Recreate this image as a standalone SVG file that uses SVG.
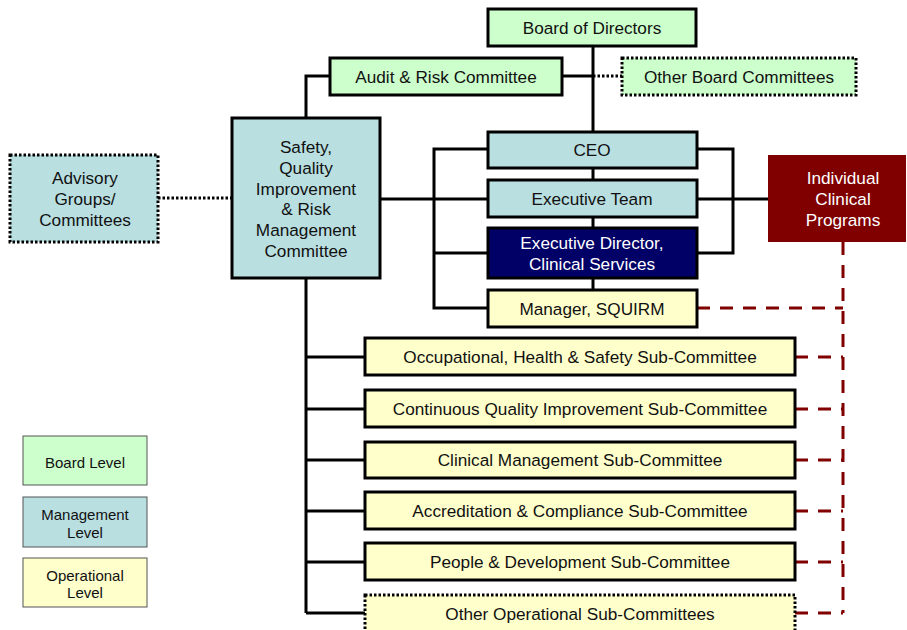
<svg xmlns="http://www.w3.org/2000/svg" width="907" height="630" viewBox="0 0 907 630">
  <style>
    text { font-family: "Liberation Sans", Arial, sans-serif; font-size: 17.2px; fill: #111; text-anchor: middle; dominant-baseline: central; }
    .box { stroke: #000; stroke-width: 3; }
    .board { fill: #ccffcc; }
    .mgmt { fill: #b9dfe1; }
    .oper { fill: #ffffcc; }
    .navy { fill: #000066; }
    .dotted { stroke-dasharray: 2.5 2; stroke-width: 3; }
    .link { stroke: #000; stroke-width: 3; fill: none; }
    .dot { stroke: #000; stroke-width: 3; stroke-dasharray: 2.5 2; fill: none; }
    .dash { stroke: #800000; stroke-width: 3; stroke-dasharray: 13 10; fill: none; }
    .legend rect { stroke: #555; stroke-width: 1; }
    .legend text { font-size: 15px; }
    .light { fill: #fff; }
  </style>

  <!-- connectors -->
  <g id="connectors">
    <!-- board spine -->
    <path class="link" d="M593 46 V132 M593 168 V180 M593 217 V228 M593 278 V290"/>
    <path class="link" d="M562 76 H593"/>
    <path class="dot" d="M593 76 H622"/>
    <!-- audit to safety committee -->
    <path class="link" d="M330 76 H306 V118"/>
    <path class="dot" d="M158 198 H232"/>
    <!-- safety committee to executive -->
    <path class="link" d="M380 199 H488"/>
    <!-- left bracket -->
    <path class="link" d="M488 149 H434 V308 H488 M434 253 H488"/>
    <!-- right bracket -->
    <path class="link" d="M697 149 H733 V253 H697 M697 199 H768"/>
    <!-- sub-committee spine -->
    <path class="link" d="M306 278 V613 M306 357 H365 M306 409 H365 M306 460 H365 M306 511 H365 M306 562 H365 M306 613 H365"/>
    <!-- clinical programs dashed links -->
    <path class="dash" d="M843 242 V613"/>
    <path class="dash" d="M697 308 H843 M795 357 H843 M795 409 H843 M795 460 H843 M795 511 H843 M795 562 H843 M795 613 H843"/>
  </g>

  <g id="board">
    <rect class="box board" x="488" y="9" width="208" height="37"/>
    <text x="592" y="28">Board of Directors</text>
  </g>
  <g id="audit">
    <rect class="box board" x="330" y="58" width="232" height="37"/>
    <text x="446" y="77">Audit &amp; Risk Committee</text>
  </g>
  <g id="other-board">
    <rect class="box board dotted" x="622" y="58" width="234" height="37"/>
    <text x="739" y="77">Other Board Committees</text>
  </g>
  <g id="advisory">
    <rect class="box mgmt dotted" x="10" y="155" width="148" height="87"/>
    <text x="85" y="178">Advisory</text>
    <text x="85" y="199">Groups/</text>
    <text x="85" y="220">Committees</text>
  </g>
  <g id="safety">
    <rect class="box mgmt" x="232" y="118" width="148" height="160"/>
    <text x="306" y="147">Safety,</text>
    <text x="306" y="168">Quality</text>
    <text x="306" y="189">Improvement</text>
    <text x="306" y="209">&amp; Risk</text>
    <text x="306" y="230">Management</text>
    <text x="306" y="251">Committee</text>
  </g>
  <g id="ceo">
    <rect class="box mgmt" x="488" y="132" width="209" height="36"/>
    <text x="592" y="150">CEO</text>
  </g>
  <g id="exec-team">
    <rect class="box mgmt" x="488" y="180" width="209" height="37"/>
    <text x="592" y="199">Executive Team</text>
  </g>
  <g id="exec-director">
    <rect class="box navy" x="488" y="228" width="209" height="50"/>
    <text class="light" x="592" y="243">Executive Director,</text>
    <text class="light" x="592" y="264">Clinical Services</text>
  </g>
  <g id="squirm">
    <rect class="box oper" x="488" y="290" width="209" height="37"/>
    <text x="592" y="309">Manager, SQUIRM</text>
  </g>
  <g id="clinical-programs">
    <rect x="768" y="155" width="138" height="87" fill="#800000"/>
    <text class="light" x="843" y="178">Individual</text>
    <text class="light" x="843" y="199">Clinical</text>
    <text class="light" x="843" y="220">Programs</text>
  </g>

  <g id="ohs">
    <rect class="box oper" x="365" y="338" width="430" height="37"/>
    <text x="580" y="357">Occupational, Health &amp; Safety Sub-Committee</text>
  </g>
  <g id="cqi">
    <rect class="box oper" x="365" y="390" width="430" height="37"/>
    <text x="580" y="409">Continuous Quality Improvement Sub-Committee</text>
  </g>
  <g id="clinical-mgmt">
    <rect class="box oper" x="365" y="442" width="430" height="36"/>
    <text x="580" y="460">Clinical Management Sub-Committee</text>
  </g>
  <g id="accreditation">
    <rect class="box oper" x="365" y="492" width="430" height="37"/>
    <text x="580" y="511">Accreditation &amp; Compliance Sub-Committee</text>
  </g>
  <g id="people">
    <rect class="box oper" x="365" y="543" width="430" height="37"/>
    <text x="580" y="562">People &amp; Development Sub-Committee</text>
  </g>
  <g id="other-oper">
    <rect class="box oper dotted" x="365" y="595" width="430" height="37"/>
    <text x="580" y="614">Other Operational Sub-Committees</text>
  </g>

  <g id="legend" class="legend">
    <rect class="board" x="23" y="436" width="124" height="49"/>
    <text x="85" y="462">Board Level</text>
    <rect class="mgmt" x="23" y="497" width="124" height="50"/>
    <text x="85" y="514">Management</text>
    <text x="85" y="532">Level</text>
    <rect class="oper" x="23" y="558" width="124" height="49"/>
    <text x="85" y="575">Operational</text>
    <text x="85" y="592">Level</text>
  </g>
</svg>
